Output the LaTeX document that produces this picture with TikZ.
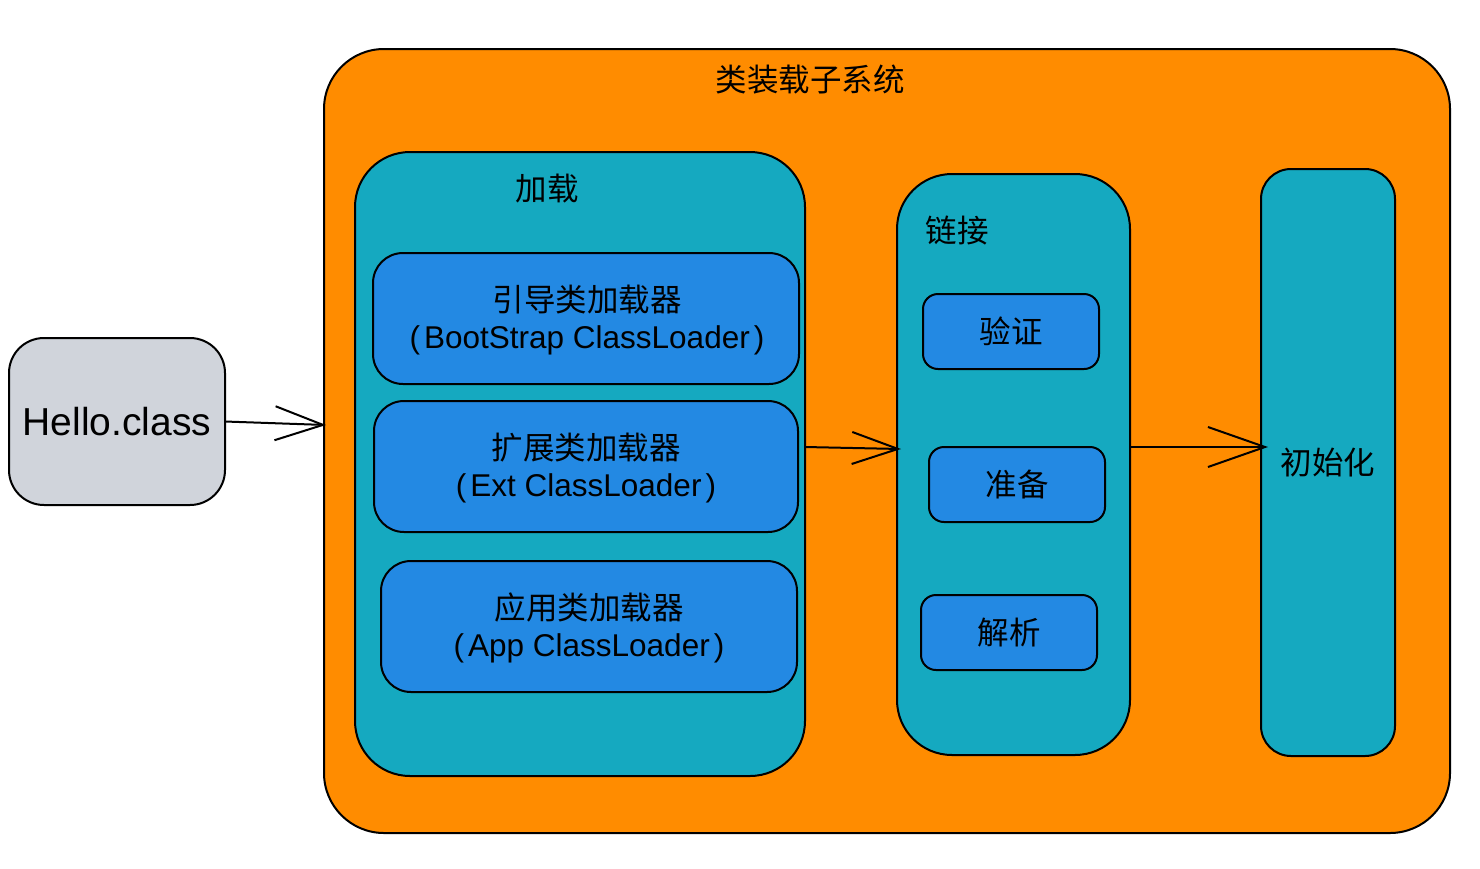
\documentclass[tikz,border=0pt]{standalone}
\usepackage{fontspec}
\setmainfont{Liberation Sans}
\newfontfamily\cjk{Noto Sans CJK SC}
\usetikzlibrary{arrows.meta}
\definecolor{sysorange}{RGB}{255,140,0}
\definecolor{stageteal}{RGB}{21,169,192}
\definecolor{loaderblue}{RGB}{35,137,227}
\definecolor{filegrey}{RGB}{208,212,219}
\newcommand{\lp}{(\kern4pt}
\newcommand{\rp}{\kern4pt)}
\begin{document}
\begin{tikzpicture}[x=1pt,y=-1pt,
  every node/.style={inner sep=0pt,outer sep=0pt},
  box/.style={draw=black,line width=2pt,rectangle},
  txt/.style={font=\fontsize{31.5}{37}\selectfont,align=center,text=black},
  conn/.style={draw=black,line width=2pt}
]
\useasboundingbox (0,0) rectangle (1480,868);
% outer system
\node[box,fill=sysorange,rounded corners=60pt,minimum width=1126pt,minimum height=784pt] (sys) at (887,441) {};
\node[txt] (systitle) at (810,80) {\cjk 类装载子系统};
% loading stage
\node[box,fill=stageteal,rounded corners=55pt,minimum width=450pt,minimum height=624pt] (load) at (580,464) {};
\node[txt] (loadtitle) at (547,189) {\cjk 加载};
\node[box,fill=loaderblue,rounded corners=30pt,minimum width=426pt,minimum height=131pt] (boot) at (586,318.5) {};
\node[txt] (boottext) at (587,320) {{\cjk 引导类加载器}\\\lp BootStrap ClassLoader\rp};
\node[box,fill=loaderblue,rounded corners=30pt,minimum width=424pt,minimum height=131pt] (ext) at (586,466.5) {};
\node[txt] (exttext) at (586,468) {{\cjk 扩展类加载器}\\\lp Ext ClassLoader\rp};
\node[box,fill=loaderblue,rounded corners=30pt,minimum width=416pt,minimum height=131pt] (app) at (589,626.5) {};
\node[txt] (apptext) at (589,628) {{\cjk 应用类加载器}\\\lp App ClassLoader\rp};
% linking stage
\node[box,fill=stageteal,rounded corners=55pt,minimum width=233pt,minimum height=581pt] (link) at (1013.5,464.5) {};
\node[txt] (linktitle) at (957,231) {\cjk 链接};
\node[box,fill=loaderblue,rounded corners=15pt,minimum width=176pt,minimum height=75pt,txt] (verify) at (1011,331.5) {\cjk 验证};
\node[box,fill=loaderblue,rounded corners=15pt,minimum width=176pt,minimum height=75pt,txt] (prepare) at (1017,484.5) {\cjk 准备};
\node[box,fill=loaderblue,rounded corners=15pt,minimum width=176pt,minimum height=75pt,txt] (resolve) at (1009,632.5) {\cjk 解析};
% init stage
\node[box,fill=stageteal,rounded corners=30pt,minimum width=134pt,minimum height=587pt,txt] (init) at (1328,462.5) {\cjk 初始化};
% input file
\node[box,fill=filegrey,rounded corners=35pt,minimum width=216pt,minimum height=167pt,font=\fontsize{39}{44}\selectfont] (hello) at (117,421.5) {Hello.class};
% connectors
\coordinate (a1s) at (hello.east);
\coordinate (a1e) at (326,425);
\draw[conn,-{Straight Barb[length=48pt,width=34pt]}] (a1s) -- (a1e);
\coordinate (a2s) at (load.east |- 0,447);
\coordinate (a2e) at (901,449);
\draw[conn,-{Straight Barb[length=46pt,width=32pt]}] (a2s) -- (a2e);
\coordinate (a3s) at (link.east |- 0,447);
\coordinate (a3e) at (1268,447);
\draw[conn,-{Straight Barb[length=57pt,width=40pt]}] (a3s) -- (a3e);
\end{tikzpicture}
\end{document}
